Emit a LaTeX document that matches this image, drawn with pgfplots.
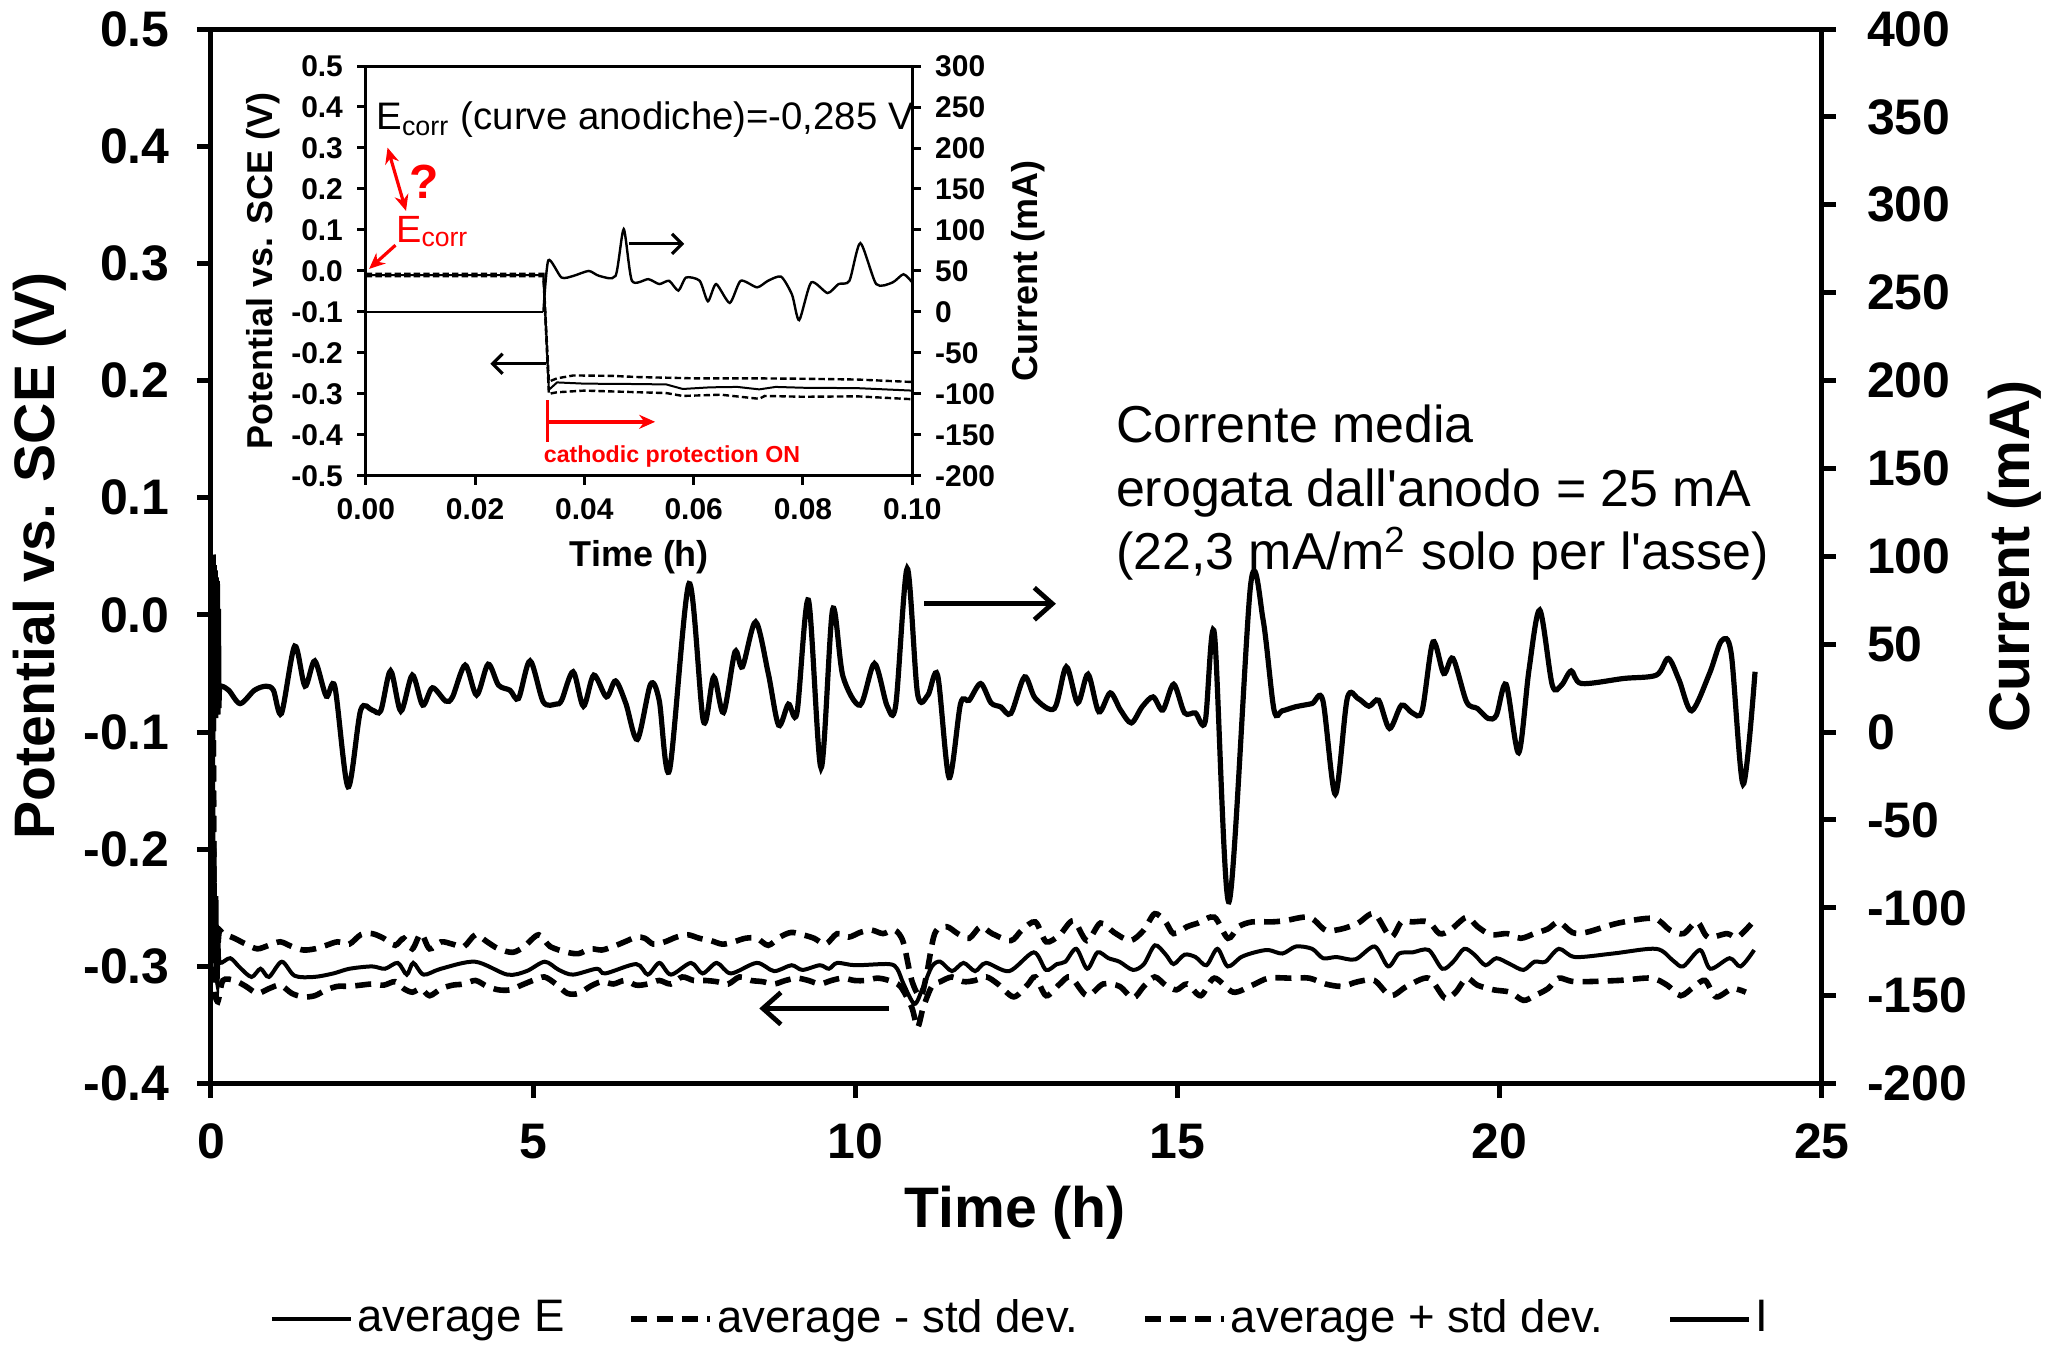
\documentclass[border=0pt]{standalone}
\usepackage{fontspec}
\setmainfont{Liberation Sans}
\usepackage{pgfplots}
\pgfplotsset{compat=1.18}
\usetikzlibrary{arrows.meta}

\pgfplotsset{
  mainax/.style={scale only axis, width=403.26pt, height=264pt, at={(0,0)}, anchor=south west,
    xmin=0, xmax=25, tick align=outside, major tick length=3.5pt,
    axis line style={line width=1.25pt}, every tick/.style={black,line width=1.25pt},
    tick label style={font=\bfseries\fontsize{12.5}{14}\selectfont},
    label style={font=\bfseries\fontsize{14.3}{16}\selectfont}},
  insax/.style={scale only axis, width=136.8pt, height=102.6pt, at={(38.775pt,152.13pt)}, anchor=south west,
    xmin=0, xmax=0.1, tick align=outside, major tick length=2.2pt,
    axis line style={line width=0.75pt}, every tick/.style={black,line width=0.75pt},
    tick label style={font=\bfseries\fontsize{7.5}{8}\selectfont},
    label style={font=\bfseries\fontsize{9}{10}\selectfont}},
  avgE/.style={black, line width=1.0pt, smooth, tension=0.5},
  stdE/.style={black, line width=1.4pt, dash pattern=on 4pt off 2.3pt, smooth, tension=0.5},
  curI/.style={black, line width=1.3pt, smooth, tension=0.5},
}

\begin{document}
\begin{tikzpicture}
\path[use as bounding box] (-52.8pt,-65.34pt) rectangle (464.64pt,271.26pt);

% ---------------- main axis, left (potential)
\begin{axis}[mainax, ymin=-0.4, ymax=0.5,
  xtick pos=bottom, ytick pos=left,
  xtick={0,5,10,15,20,25}, xticklabels={0,5,10,15,20,25},
  ytick={-0.4,-0.3,-0.2,-0.1,0,0.1,0.2,0.3,0.4,0.5},
  yticklabels={-0.4,-0.3,-0.2,-0.1,0.0,0.1,0.2,0.3,0.4,0.5},
  yticklabel style={xshift=-3.3pt},
  xticklabel style={yshift=-3pt},
  xlabel={Time (h)}, ylabel={Potential vs. SCE (V)},
  xlabel style={at={(axis description cs:0.4992,-0.1225)}, anchor=center},
  ylabel style={at={(axis description cs:-0.1064,0.5)}, anchor=center},
  legend columns=4, legend cell align=left,
  legend style={at={(0.503,-0.2235)}, anchor=center, draw=none, fill=none,
    font=\fontsize{11.4}{13}\selectfont, nodes={inner xsep=1pt},
    /tikz/every even column/.append style={column sep=15pt}},
  legend image code/.code={\draw[#1] (0pt,0pt) -- (19.8pt,0pt);},
]
\addplot[avgE] coordinates {
(0,-0.010) (0.030,-0.010) (0.040,-0.250) (0.055,-0.200) (0.070,-0.310) (0.085,-0.240)
(0.100,-0.315) (0.120,-0.285) (0.142,-0.297)
(0.30,-0.293) (0.45,-0.301) (0.63,-0.309) (0.77,-0.302) (0.90,-0.309) (1.10,-0.296)
(1.30,-0.308) (1.60,-0.309) (1.90,-0.306) (2.15,-0.302) (2.50,-0.300) (2.70,-0.302)
(2.90,-0.297) (3.04,-0.307) (3.14,-0.297) (3.30,-0.307) (3.57,-0.302) (4.10,-0.296)
(4.60,-0.307) (4.90,-0.304) (5.18,-0.296) (5.40,-0.303) (5.62,-0.307) (5.99,-0.302)
(6.12,-0.306) (6.60,-0.298) (6.78,-0.307) (6.96,-0.297) (7.14,-0.307) (7.45,-0.297)
(7.63,-0.306) (7.85,-0.297) (8.07,-0.306) (8.47,-0.297) (8.74,-0.304) (9.01,-0.299)
(9.18,-0.303) (9.45,-0.299) (9.59,-0.302) (9.72,-0.297) (10.00,-0.299) (10.52,-0.298)
(10.65,-0.302) (10.75,-0.315) (10.92,-0.332) (11.05,-0.318) (11.19,-0.300) (11.32,-0.296)
(11.50,-0.304) (11.68,-0.297) (11.86,-0.304) (12.03,-0.297) (12.39,-0.304) (12.77,-0.288)
(12.96,-0.303) (13.13,-0.298) (13.26,-0.296) (13.43,-0.285) (13.60,-0.302) (13.76,-0.288)
(13.93,-0.293) (14.10,-0.296) (14.31,-0.303) (14.48,-0.298) (14.65,-0.282) (14.82,-0.290)
(14.94,-0.298) (15.11,-0.290) (15.28,-0.292) (15.45,-0.299) (15.62,-0.285) (15.78,-0.300)
(15.99,-0.292) (16.20,-0.288) (16.41,-0.286) (16.63,-0.289) (16.84,-0.283) (17.09,-0.285)
(17.26,-0.293) (17.47,-0.292) (17.76,-0.294) (18.06,-0.283) (18.27,-0.300) (18.44,-0.289)
(18.65,-0.288) (18.90,-0.286) (19.11,-0.302) (19.28,-0.296) (19.45,-0.285) (19.61,-0.290)
(19.78,-0.299) (19.95,-0.293) (20.16,-0.298) (20.37,-0.303) (20.54,-0.296) (20.71,-0.296)
(20.92,-0.285) (21.17,-0.292) (21.76,-0.289) (22.43,-0.285) (22.69,-0.295) (22.85,-0.300)
(23.11,-0.286) (23.27,-0.302) (23.57,-0.293) (23.74,-0.300) (23.95,-0.286)
};
\addlegendentry{average E}
\addplot[stdE] coordinates {
(0,-0.012) (0.030,-0.012) (0.050,-0.290) (0.100,-0.330) (0.186,-0.312)
(0.365,-0.312) (0.543,-0.317) (0.721,-0.323) (0.899,-0.319) (1.077,-0.316) (1.255,-0.323)
(1.434,-0.326) (1.612,-0.325) (1.790,-0.320) (1.968,-0.317) (2.146,-0.317) (2.325,-0.316)
(2.503,-0.315) (2.681,-0.316) (2.859,-0.313) (2.993,-0.319) (3.126,-0.322) (3.260,-0.319)
(3.394,-0.325) (3.572,-0.319) (3.750,-0.316) (3.928,-0.315) (4.106,-0.312) (4.285,-0.317)
(4.463,-0.320) (4.641,-0.320) (4.819,-0.316) (4.997,-0.312) (5.175,-0.309) (5.354,-0.315)
(5.532,-0.323) (5.710,-0.323) (5.888,-0.317) (6.066,-0.313) (6.244,-0.315) (6.423,-0.312)
(6.601,-0.316) (6.779,-0.315) (6.957,-0.312) (7.135,-0.315) (7.314,-0.309) (7.492,-0.312)
(7.670,-0.312) (7.848,-0.313) (8.026,-0.315) (8.204,-0.309) (8.383,-0.312) (8.561,-0.313)
(8.739,-0.315) (8.917,-0.312) (9.095,-0.310) (9.273,-0.312) (9.452,-0.315) (9.630,-0.312)
(9.808,-0.310) (9.986,-0.312) (10.164,-0.312) (10.342,-0.310) (10.521,-0.312) (10.699,-0.317)
(10.877,-0.335) (10.966,-0.352) (11.055,-0.335) (11.189,-0.317) (11.322,-0.313) (11.501,-0.309)
(11.679,-0.313) (11.857,-0.312) (12.035,-0.309) (12.213,-0.315) (12.458,-0.326) (12.669,-0.316)
(12.795,-0.309) (12.963,-0.325) (13.174,-0.315) (13.342,-0.309) (13.595,-0.325) (13.847,-0.315)
(14.100,-0.317) (14.310,-0.327) (14.478,-0.317) (14.647,-0.309) (14.815,-0.316) (14.984,-0.320)
(15.152,-0.315) (15.362,-0.325) (15.573,-0.310) (15.867,-0.322) (16.162,-0.316) (16.414,-0.310)
(16.751,-0.310) (17.046,-0.310) (17.298,-0.315) (17.551,-0.317) (17.803,-0.313) (18.056,-0.312)
(18.308,-0.325) (18.561,-0.317) (18.897,-0.310) (19.150,-0.327) (19.318,-0.322) (19.487,-0.310)
(19.655,-0.316) (19.908,-0.320) (20.160,-0.322) (20.370,-0.329) (20.539,-0.325) (20.749,-0.319)
(20.918,-0.310) (21.170,-0.313) (21.844,-0.312) (22.348,-0.310) (22.601,-0.316) (22.811,-0.325)
(23.022,-0.317) (23.190,-0.312) (23.358,-0.326) (23.611,-0.319) (23.821,-0.322)
};
\addlegendentry{average - std dev.}
\addplot[stdE] coordinates {
(0,-0.008) (0.030,-0.008) (0.050,-0.250) (0.090,-0.290) (0.130,-0.270) (0.186,-0.272)
(0.365,-0.276) (0.543,-0.281) (0.721,-0.285) (0.899,-0.282) (1.077,-0.279) (1.255,-0.283)
(1.434,-0.286) (1.612,-0.285) (1.790,-0.282) (1.968,-0.279) (2.146,-0.281) (2.325,-0.273)
(2.503,-0.272) (2.681,-0.276) (2.859,-0.282) (2.993,-0.276) (3.126,-0.285) (3.260,-0.272)
(3.394,-0.285) (3.572,-0.279) (3.750,-0.281) (3.928,-0.283) (4.106,-0.273) (4.285,-0.279)
(4.463,-0.285) (4.685,-0.288) (4.863,-0.283) (5.086,-0.273) (5.264,-0.283) (5.532,-0.288)
(5.710,-0.289) (5.888,-0.285) (6.066,-0.286) (6.244,-0.283) (6.423,-0.279) (6.601,-0.275)
(6.735,-0.276) (6.868,-0.281) (7.046,-0.279) (7.224,-0.275) (7.403,-0.273) (7.581,-0.276)
(7.759,-0.278) (7.937,-0.281) (8.115,-0.279) (8.294,-0.276) (8.472,-0.276) (8.650,-0.282)
(8.828,-0.275) (9.006,-0.271) (9.184,-0.273) (9.362,-0.276) (9.541,-0.281) (9.719,-0.272)
(9.897,-0.275) (10.075,-0.271) (10.253,-0.269) (10.431,-0.272) (10.610,-0.269) (10.743,-0.279)
(10.877,-0.312) (11.011,-0.326) (11.100,-0.309) (11.233,-0.272) (11.412,-0.266) (11.590,-0.272)
(11.768,-0.276) (11.946,-0.266) (12.124,-0.272) (12.416,-0.278) (12.585,-0.269) (12.795,-0.262)
(12.963,-0.279) (13.174,-0.273) (13.384,-0.261) (13.595,-0.278) (13.805,-0.263) (14.016,-0.271)
(14.268,-0.278) (14.478,-0.269) (14.647,-0.255) (14.815,-0.262) (14.941,-0.272) (15.152,-0.266)
(15.320,-0.263) (15.573,-0.258) (15.783,-0.276) (15.951,-0.266) (16.162,-0.262) (16.457,-0.262)
(16.667,-0.261) (17.046,-0.258) (17.298,-0.269) (17.551,-0.268) (17.803,-0.263) (18.056,-0.255)
(18.308,-0.275) (18.476,-0.262) (18.645,-0.262) (18.897,-0.262) (19.066,-0.272) (19.234,-0.269)
(19.487,-0.258) (19.655,-0.266) (19.866,-0.273) (20.118,-0.272) (20.328,-0.276) (20.539,-0.272)
(20.749,-0.268) (20.918,-0.262) (21.128,-0.271) (21.338,-0.271) (21.844,-0.263) (22.391,-0.259)
(22.643,-0.269) (22.853,-0.272) (23.064,-0.262) (23.232,-0.275) (23.527,-0.272) (23.695,-0.275)
(23.948,-0.261)
};
\addlegendentry{average + std dev.}
\addlegendimage{curI}
\addlegendentry{I}
\end{axis}

% ---------------- main axis, right (current)
\begin{axis}[mainax, ymin=-200, ymax=400,
  axis y line*=right, axis x line=none,
  ytick={-200,-150,-100,-50,0,50,100,150,200,250,300,350,400},
  yticklabels={-200,-150,-100,-50,0,50,100,150,200,250,300,350,400},
  yticklabel style={xshift=4.3pt},
  ylabel={Current (mA)},
  ylabel style={at={(axis description cs:1.1195,0.5)}, anchor=center},
]
\addplot[curI] coordinates {
(0,0) (0.030,0) (0.036,101) (0.044,8) (0.052,95) (0.060,10) (0.068,92) (0.076,8)
(0.084,88) (0.092,12) (0.100,86) (0.108,10) (0.116,70) (0.126,15) (0.142,25.7)
(0.275,23.8) (0.454,16.2) (0.676,23.8) (0.855,26.1) (0.970,23.8) (1.095,10.6) (1.300,48.9)
(1.460,26.1) (1.612,40.5) (1.790,20.4) (1.924,25.7) (2.128,-31.2) (2.324,12.5) (2.503,12.5)
(2.636,12.1) (2.788,34.8) (2.948,11.9) (3.126,32.4) (3.287,15.3) (3.438,25.2) (3.643,17.6)
(3.750,20.0) (3.946,38.1) (4.124,21.0) (4.302,38.6) (4.463,26.7) (4.641,23.8) (4.774,19.1)
(4.953,40.5) (5.158,17.2) (5.354,15.9) (5.443,18.1) (5.621,34.3) (5.781,14.7) (5.942,32.4)
(6.138,20.0) (6.280,29.1) (6.440,16.2) (6.619,-4.2) (6.823,27.2) (6.957,18.1) (7.117,-21.7)
(7.420,84.5) (7.643,6.2) (7.803,31.4) (7.955,11.1) (8.133,45.6) (8.249,37.1) (8.454,62.7)
(8.650,33.3) (8.810,3.9) (8.962,15.9) (9.095,10.9) (9.273,75.1) (9.469,-20.4) (9.648,69.7)
(9.808,31.8) (10.075,15.3) (10.298,39.0) (10.494,14.9) (10.628,15.3) (10.806,93.1) (10.966,21.9)
(11.127,21.0) (11.278,32.4) (11.456,-25.9) (11.634,16.2) (11.768,18.1) (11.946,27.6) (12.107,16.6)
(12.258,14.3) (12.416,10.6) (12.627,31.4) (12.795,19.1) (13.090,13.4) (13.275,37.1) (13.452,16.6)
(13.612,32.9) (13.780,11.5) (13.957,22.3) (14.117,12.5) (14.285,5.2) (14.453,14.4) (14.622,20.0)
(14.773,12.5) (14.941,27.2) (15.110,10.9) (15.278,10.9) (15.430,5.8) (15.573,56.1) (15.800,-96.6)
(16.137,84.2) (16.330,63.7) (16.499,12.5) (16.625,12.1) (16.835,14.4) (17.088,16.2) (17.256,18.1)
(17.450,-35.4) (17.635,19.1) (17.803,19.1) (17.972,14.7) (18.123,18.1) (18.291,2.0) (18.477,15.3)
(18.645,10.9) (18.797,12.1) (18.965,51.3) (19.133,33.3) (19.276,41.9) (19.487,17.2) (19.655,13.4)
(19.823,7.7) (19.950,9.6) (20.101,27.1) (20.295,-11.8) (20.455,35.2) (20.623,69.4) (20.817,26.7)
(20.960,26.7) (21.111,34.8) (21.271,27.6) (21.927,30.5) (22.433,32.4) (22.617,41.9) (22.786,29.5)
(22.980,12.1) (23.257,33.3) (23.443,51.9) (23.594,44.7) (23.779,-29.7) (23.964,34.3)
};
\end{axis}

% ---------------- inset, left (potential)
\begin{axis}[insax, ymin=-0.5, ymax=0.5,
  xtick pos=bottom, ytick pos=left,
  axis background/.style={fill=white},
  xtick={0,0.02,0.04,0.06,0.08,0.1}, xticklabels={0.00,0.02,0.04,0.06,0.08,0.10},
  ytick={-0.5,-0.4,-0.3,-0.2,-0.1,0,0.1,0.2,0.3,0.4,0.5},
  yticklabels={-0.5,-0.4,-0.3,-0.2,-0.1,0.0,0.1,0.2,0.3,0.4,0.5},
  xlabel={Time (h)}, ylabel={Potential vs. SCE (V)},
  xlabel style={at={(axis description cs:0.5006,-0.1994)}, anchor=center},
  ylabel style={at={(axis description cs:-0.187,0.5)}, anchor=center},
]
\addplot[black, line width=0.5pt] coordinates {
(0,-0.010) (0.0325,-0.010) (0.0335,-0.290) (0.035,-0.272) (0.040,-0.275) (0.050,-0.276)
(0.055,-0.277) (0.058,-0.288) (0.063,-0.284) (0.068,-0.283) (0.072,-0.289) (0.075,-0.283)
(0.080,-0.285) (0.090,-0.286) (0.100,-0.292)
};
\addplot[black, line width=0.6pt, dash pattern=on 1.6pt off 0.8pt] coordinates {
(0,-0.007) (0.0325,-0.007) (0.0335,-0.270) (0.035,-0.262) (0.038,-0.255) (0.045,-0.256)
(0.050,-0.259) (0.060,-0.262) (0.070,-0.262) (0.080,-0.263) (0.090,-0.265) (0.100,-0.271)
};
\addplot[black, line width=0.6pt, dash pattern=on 1.6pt off 0.8pt] coordinates {
(0,-0.013) (0.0325,-0.013) (0.0335,-0.300) (0.035,-0.296) (0.040,-0.292) (0.050,-0.296)
(0.055,-0.298) (0.058,-0.305) (0.065,-0.302) (0.072,-0.312) (0.073,-0.305) (0.080,-0.307)
(0.090,-0.306) (0.100,-0.313)
};
\end{axis}

% ---------------- inset, right (current)
\begin{axis}[insax, ymin=-200, ymax=300,
  axis y line*=right, axis x line=none,
  ytick={-200,-150,-100,-50,0,50,100,150,200,250,300},
  yticklabels={-200,-150,-100,-50,0,50,100,150,200,250,300},
  ylabel={Current (mA)},
  ylabel style={at={(axis description cs:1.212,0.5)}, anchor=center},
]
\addplot[black, line width=0.6pt] coordinates {(0,0) (0.0325,0)};
\addplot[black, line width=0.6pt, smooth, tension=0.4] coordinates {
(0.0325,0) (0.0334,63) (0.0358,42) (0.0380,44) (0.0408,50) (0.0427,44) (0.0457,44)
(0.0472,101) (0.0487,38) (0.0517,40) (0.0537,34) (0.0555,38) (0.0572,26) (0.0586,42)
(0.0611,38) (0.0626,13) (0.0641,34) (0.0666,11) (0.0686,38) (0.0716,30) (0.0736,38)
(0.0760,43) (0.0780,21) (0.0793,-10) (0.0815,36) (0.0845,23) (0.0865,34) (0.0885,38)
(0.0905,84) (0.0934,34) (0.0964,36) (0.0984,46) (0.1000,36)
};
\end{axis}

% ---------------- annotations
\begin{scope}[x=0.33pt,y=-0.33pt,shift={(-52.8pt,271.26pt)}]
\node[anchor=base west, inner sep=0pt, font=\fontsize{13}{15}\selectfont] at (846,336) {Corrente media};
\node[anchor=base west, inner sep=0pt, font=\fontsize{13}{15}\selectfont] at (846,384) {erogata dall\textquotesingle anodo = 25 mA};
\node[anchor=base west, inner sep=0pt, font=\fontsize{13}{15}\selectfont] at (846,432) {(22,3 mA/m\textsuperscript{2} solo per l\textquotesingle asse)};
\draw[line width=1.2pt, -{Straight Barb[length=4.5pt,width=8pt,line width=1.2pt]}] (701,458) -- (801,458);
\draw[line width=1.2pt, -{Straight Barb[length=4.5pt,width=8pt,line width=1.2pt]}] (674,765) -- (576,765);
\draw[line width=0.8pt, -{Straight Barb[length=2.5pt,width=5pt,line width=0.8pt]}] (477,185) -- (519,185);
\draw[line width=0.8pt, -{Straight Barb[length=2.5pt,width=5pt,line width=0.8pt]}] (414,276) -- (372,276);
\node[anchor=base west, inner sep=0pt, font=\fontsize{9.6}{10}\selectfont] at (285,98) {E\textsubscript{corr} (curve anodiche)=-0,285 V};
\node[anchor=base west, inner sep=0pt, text=red, font=\fontsize{9.5}{10}\selectfont] at (300,184) {E\textsubscript{corr}};
\node[text=red, inner sep=0pt, font=\bfseries\fontsize{12}{12}\selectfont] at (322,138) {?};
\draw[red, line width=0.8pt, {Stealth[length=4pt,width=3.5pt]}-{Stealth[length=4pt,width=3.5pt]}] (294,112) -- (308,160);
\draw[red, line width=0.8pt, -{Stealth[length=4pt,width=3.5pt]}] (300,186) -- (280,204);
\draw[red, line width=0.9pt] (415.3,303.5) -- (415.3,335);
\draw[red, line width=0.9pt, -{Stealth[length=4pt,width=3.5pt]}] (415.3,320) -- (497,320);
\node[anchor=base west, inner sep=0pt, text=red, font=\bfseries\fontsize{5.8}{6}\selectfont] at (412,351) {cathodic protection ON};
\end{scope}
\end{tikzpicture}
\end{document}
